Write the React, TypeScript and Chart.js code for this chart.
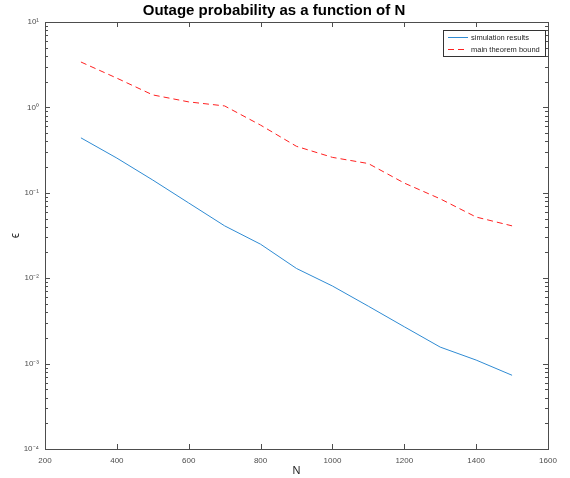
import React, { useEffect, useRef } from "react";
import { Chart, registerables } from "chart.js";

Chart.register(...registerables);

const N_VALUES = [300, 400, 500, 600, 700, 800, 900, 1000, 1100, 1200, 1300, 1400, 1500];
const SIMULATION = [0.44, 0.255, 0.141, 0.076, 0.041, 0.025, 0.013, 0.0081, 0.0047, 0.0027, 0.00156, 0.0011, 0.00073];
const BOUND = [3.4, 2.2, 1.4, 1.16, 1.04, 0.62, 0.35, 0.26, 0.22, 0.13, 0.085, 0.052, 0.041];
const SERIES_NAMES = ["simulation results", "main theorem bound"];
const X_TICKS = [200, 400, 600, 800, 1000, 1200, 1400, 1600];
const Y_DECADES = [1e-4, 1e-3, 1e-2, 1e-1, 1, 10];
const Y_LABELS: Record<string, string> = {
  "0.0001": "10⁻⁴",
  "0.001": "10⁻³",
  "0.01": "10⁻²",
  "0.1": "10⁻¹",
  "1": "10⁰",
  "10": "10¹",
};
const TITLE = "Outage probability as a function of N";
const X_TITLE = "N";
const Y_TITLE = "ϵ";

const FONT = "'Liberation Sans', Arial, sans-serif";
const AXIS_COLOR = "#4d4d4d";
const BLUE = "#2f8bd3";
const RED = "#ff2020";

const framePlugin = {
  id: "matlabFrame",
  afterDatasetsDraw(chart: any) {
    const { ctx, chartArea, scales } = chart;
    const { left, right, top, bottom } = chartArea;
    const xs = scales.x;
    const ys = scales.y;
    ctx.save();
    ctx.strokeStyle = AXIS_COLOR;
    ctx.lineWidth = 1;
    ctx.strokeRect(Math.round(left) + 0.5, Math.round(top) + 0.5, Math.round(right - left), Math.round(bottom - top));
    ctx.beginPath();
    for (const v of X_TICKS) {
      const px = Math.round(xs.getPixelForValue(v)) + 0.5;
      ctx.moveTo(px, bottom);
      ctx.lineTo(px, bottom - 5);
      ctx.moveTo(px, top);
      ctx.lineTo(px, top + 5);
    }
    for (let i = 0; i < Y_DECADES.length; i++) {
      const d = Y_DECADES[i];
      const py = Math.round(ys.getPixelForValue(d)) + 0.5;
      ctx.moveTo(left, py);
      ctx.lineTo(left + 5, py);
      ctx.moveTo(right, py);
      ctx.lineTo(right - 5, py);
      if (i < Y_DECADES.length - 1) {
        for (let m = 2; m <= 9; m++) {
          const pm = Math.round(ys.getPixelForValue(d * m)) + 0.5;
          ctx.moveTo(left, pm);
          ctx.lineTo(left + 3, pm);
          ctx.moveTo(right, pm);
          ctx.lineTo(right - 3, pm);
        }
      }
    }
    ctx.stroke();

    // legend box
    const lx = Math.round(right - 105);
    const ly = Math.round(top + 8);
    const lw = 102;
    const lh = 26;
    ctx.fillStyle = "#ffffff";
    ctx.fillRect(lx, ly, lw, lh);
    ctx.strokeStyle = "#333333";
    ctx.strokeRect(lx + 0.5, ly + 0.5, lw, lh);
    const colors = [BLUE, RED];
    const dashes = [[], [6, 4]];
    ctx.font = `7.5px ${FONT}`;
    ctx.textBaseline = "middle";
    ctx.textAlign = "left";
    SERIES_NAMES.forEach((name, i) => {
      const yy = Math.round(ly + 7 + i * 12) + 0.5;
      ctx.beginPath();
      ctx.setLineDash(dashes[i]);
      ctx.strokeStyle = colors[i];
      ctx.lineWidth = 1;
      ctx.moveTo(lx + 5, yy);
      ctx.lineTo(lx + 25, yy);
      ctx.stroke();
      ctx.setLineDash([]);
      ctx.fillStyle = "#262626";
      ctx.fillText(name, lx + 28, yy);
    });
    ctx.restore();
  },
};

export default function App() {
  const ref = useRef<HTMLCanvasElement | null>(null);
  useEffect(() => {
    document.body.style.margin = "0";
    const canvas = ref.current!;
    const chart = new Chart(canvas, {
      type: "line",
      data: {
        datasets: [
          {
            label: SERIES_NAMES[0],
            data: N_VALUES.map((n, i) => ({ x: n, y: SIMULATION[i] })),
            borderColor: BLUE,
            borderWidth: 1,
            pointRadius: 0,
            tension: 0,
            fill: false,
          },
          {
            label: SERIES_NAMES[1],
            data: N_VALUES.map((n, i) => ({ x: n, y: BOUND[i] })),
            borderColor: RED,
            borderWidth: 1,
            borderDash: [6, 4],
            pointRadius: 0,
            tension: 0,
            fill: false,
          },
        ],
      },
      options: {
        responsive: false,
        animation: false,
        devicePixelRatio: 1,
        layout: { padding: { left: 0, right: 22, top: 0, bottom: 0 } },
        plugins: {
          legend: { display: false },
          tooltip: { enabled: false },
          title: {
            display: true,
            text: TITLE,
            color: "#000000",
            font: { family: FONT, size: 15, weight: "bold", lineHeight: 1.2 },
            padding: { top: 2, bottom: 2 },
          },
        },
        scales: {
          x: {
            type: "linear",
            min: 200,
            max: 1600,
            afterBuildTicks: (scale: any) => {
              scale.ticks = X_TICKS.map((v) => ({ value: v }));
            },
            afterFit: (scale: any) => {
              scale.height = 29;
            },
            grid: { display: false, drawTicks: false },
            border: { display: false },
            ticks: {
              color: "#4d4d4d",
              font: { family: FONT, size: 8 },
              padding: 7,
              maxRotation: 0,
              autoSkip: false,
              callback: (v: any) => String(v),
            },
            title: {
              display: true,
              text: X_TITLE,
              color: "#262626",
              font: { family: FONT, size: 11 },
              padding: { top: 1, bottom: 0 },
            },
          },
          y: {
            type: "logarithmic",
            min: 1e-4,
            max: 10,
            afterBuildTicks: (scale: any) => {
              scale.ticks = Y_DECADES.map((v) => ({ value: v }));
            },
            afterFit: (scale: any) => {
              scale.width = 45;
            },
            grid: { display: false, drawTicks: false },
            border: { display: false },
            ticks: {
              color: "#4d4d4d",
              font: { family: FONT, size: 8 },
              padding: 6,
              autoSkip: false,
              callback: (v: any) => Y_LABELS[String(Number(v))] ?? "",
            },
            title: {
              display: true,
              text: Y_TITLE,
              color: "#262626",
              font: { family: FONT, size: 12 },
              padding: { top: 8, bottom: 0 },
            },
          },
        },
      },
      plugins: [framePlugin],
    } as any);
    return () => chart.destroy();
  }, []);
  return <canvas ref={ref} width={570} height={478} style={{ display: "block" }} />;
}
